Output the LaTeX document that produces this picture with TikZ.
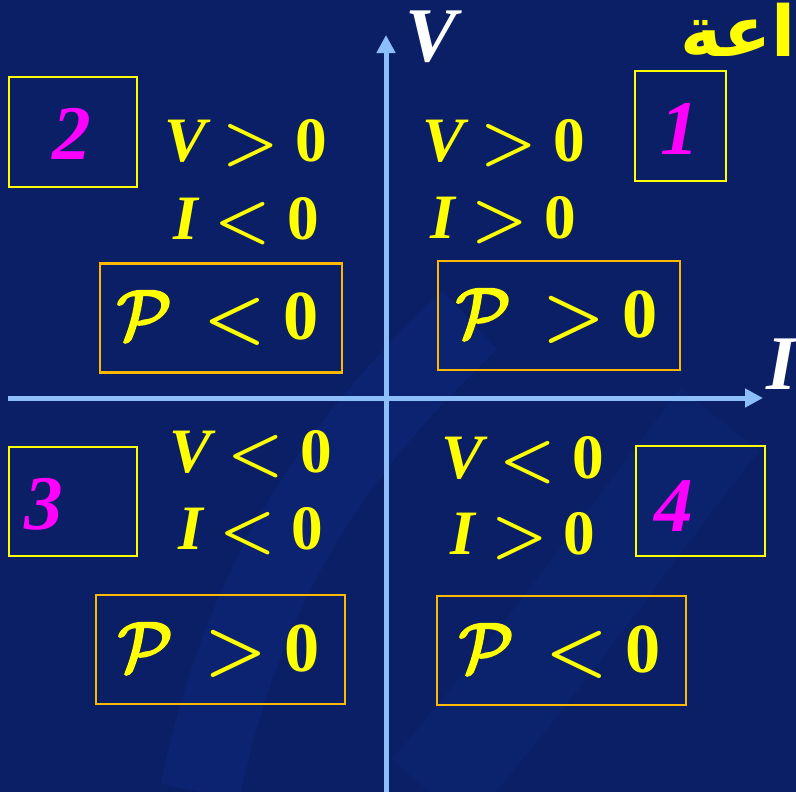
\RequirePackage{fix-cm}
\documentclass[tikz,border=0pt]{standalone}
\usepackage{amsmath,bm}
\usepackage{fontspec}
\setmainfont{Liberation Serif}
\newfontfamily\arabicfont[Script=Arabic]{DejaVu Sans}
\TeXXeTstate=1
\usetikzlibrary{arrows.meta,positioning}

\definecolor{bgnavy}{RGB}{10,31,102}
\definecolor{swirlblue}{RGB}{16,46,138}
\definecolor{axisblue}{RGB}{140,190,250}
\definecolor{signyellow}{RGB}{255,255,0}
\definecolor{powerorange}{RGB}{255,184,0}
\definecolor{quadpink}{RGB}{255,0,255}

\newcommand{\signrel}[3]{{\bfseries\itshape #1}{\boldmath$\mskip4mu#2\mskip4mu$}{\bfseries #3}}
% calligraphic P, filled and stroked for a heavier line
\newcommand{\heavyP}{\special{pdf:literal direct 2 Tr 1.4 w}$\mathcal{P}$\special{pdf:literal direct 0 Tr}}
\newcommand{\powerrel}[2]{\heavyP{\boldmath$\mskip7mu#1\mskip4mu$}{\bfseries #2}}

\tikzset{
  axis/.style={axisblue, line width=1mm, -{Triangle[length=3.6mm,width=3.6mm]}},
  axislabel/.style={white, font=\fontsize{44}{48}\selectfont\bfseries\itshape, inner sep=0pt},
  signtext/.style={signyellow, font=\fontsize{36}{40}\selectfont, inner sep=0pt},
  powertext/.style={signyellow, font=\fontsize{40}{44}\selectfont, inner sep=0pt},
  quadbox/.style={draw=signyellow, line width=0.4mm, minimum width=#1, minimum height=2.2cm},
  powerbox/.style={draw=powerorange, line width=0.5mm, minimum width=#1, minimum height=2.18cm},
  quadnum/.style={quadpink, font=\fontsize{44}{48}\selectfont\bfseries\itshape, inner sep=0pt},
}

\begin{document}
\begin{tikzpicture}[x=0.02cm, y=-0.02cm]
    % Background and frame
    \fill[bgnavy] (0,0) rectangle (796,792);
    \useasboundingbox (0,0) rectangle (796,792);
    \clip (0,0) rectangle (796,792);

    % Faint swirl of the slide background
    \draw[swirlblue, line width=1.6cm, opacity=0.3] (200,792) .. controls (240,600) and (320,460) .. (470,320);
    \draw[swirlblue, line width=2cm, opacity=0.2] (430,792) .. controls (560,640) and (640,520) .. (720,420);

    % Title fragment
    \node[signyellow, anchor=east, inner sep=0pt,
          font=\fontsize{40}{44}\selectfont\arabicfont\bfseries] (title) at (796,30) {\beginR اعة\endR};

    % Axes
    \coordinate (vbot) at (386,792);
    \coordinate (vtop) at (386,35);
    \coordinate (hleft) at (8,398);
    \coordinate (hright) at (763,398);
    \draw[axis] (vbot) -- (vtop);
    \draw[axis] (hleft) -- (hright);
    \node[axislabel] (vlab) at (431,37) {V};
    \node[axislabel] (ilab) at (782,364) {I};

    % Quadrant number boxes
    \node[quadbox=2.56cm] (box2) at (73,132) {};
    \node[quadbox=1.82cm] (box1) at (680.5,126) {};
    \node[quadbox=2.56cm] (box3) at (73,501.5) {};
    \node[quadbox=2.58cm] (box4) at (700.5,501) {};
    \node[quadnum] (num2) at (72,134) {2};
    \node[quadnum] (num1) at (680,129) {1};
    \node[quadnum] (num3) at (44,504) {3};
    \node[quadnum] (num4) at (674,506) {4};

    % Signs of V and I
    \node[signtext] (v2) at (246,143) {\signrel{V}{>}{0}};
    \node[signtext] (i2) at (246.5,221) {\signrel{I}{<}{0}};
    \node[signtext] (v1) at (504,143) {\signrel{V}{>}{0}};
    \node[signtext] (i1) at (503.5,220) {\signrel{I}{>}{0}};
    \node[signtext] (v3) at (251,454) {\signrel{V}{<}{0}};
    \node[signtext] (i3) at (251,531) {\signrel{I}{<}{0}};
    \node[signtext] (v4) at (523,460) {\signrel{V}{<}{0}};
    \node[signtext] (i4) at (523,536) {\signrel{I}{>}{0}};

    % Sign of the power
    \node[powerbox=4.84cm] (pbox2) at (221,318) {};
    \node[powerbox=4.84cm] (pbox1) at (559,315.5) {};
    \node[powerbox=4.98cm] (pbox3) at (220.5,649.5) {};
    \node[powerbox=4.98cm] (pbox4) at (561.5,650.5) {};
    \node[powertext] (p2) at (218,318) {\powerrel{<}{0}};
    \node[powertext] (p1) at (557,316) {\powerrel{>}{0}};
    \node[powertext] (p3) at (219,650) {\powerrel{>}{0}};
    \node[powertext] (p4) at (560,651) {\powerrel{<}{0}};
\end{tikzpicture}
\end{document}
